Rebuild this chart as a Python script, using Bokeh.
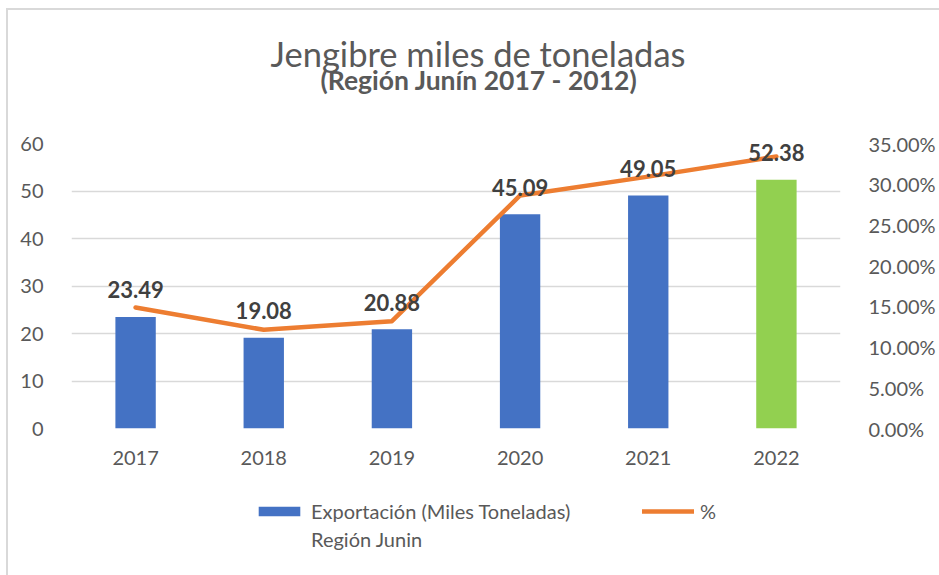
from bokeh.plotting import figure
from bokeh.layouts import column
from bokeh.models import (Range1d, LinearAxis, FactorRange, FixedTicker, NumeralTickFormatter,
                          Legend, LegendItem, ColumnDataSource, Title)
from bokeh.core.properties import value
from bokeh.embed import file_html
from bokeh.resources import INLINE

# ---- data ----
years = ["2017", "2018", "2019", "2020", "2021", "2022"]
export_miles_t = [23.49, 19.08, 20.88, 45.09, 49.05, 52.38]
pct_share = [0.1486, 0.1212, 0.1318, 0.2862, 0.3093, 0.3340]
left_ticks = [0, 10, 20, 30, 40, 50, 60]
right_ticks = [0.0, 0.05, 0.10, 0.15, 0.20, 0.25, 0.30, 0.35]
title_text = "Jengibre miles de toneladas"
subtitle_text = "(Región Junín 2017 - 2012)"
bar_legend_line1 = "Exportación (Miles Toneladas)"
bar_legend_line2 = "Región Junin"
line_legend = "%"
highlight_year = "2022"

# ---- styles ----
FONT = "Lato"
BLUE = "#4472C4"
GREEN = "#92D050"
ORANGE = "#ED7D31"
GRID = "#D9D9D9"
TXT = "#595959"

colors = [GREEN if y == highlight_year else BLUE for y in years]
src = ColumnDataSource(dict(year=years, val=export_miles_t, pct=pct_share, color=colors,
                            label=[f"{v:.2f}" for v in export_miles_t]))

p = figure(x_range=FactorRange(*years), y_range=Range1d(0, 60),
           width=939, height=490, output_backend="svg", toolbar_location=None,
           min_border_left=71, min_border_right=99, min_border_top=143, min_border_bottom=62)
p.styles = {"box-shadow": "inset 6px 8px 0 0 #FFFFFF, inset 8px 10px 0 0 #D9D9D9"}
p.outline_line_color = None
p.background_fill_color = "white"
p.border_fill_alpha = 0

p.extra_y_ranges = {"pct": Range1d(0, 0.35)}

bars = p.vbar(x="year", top="val", width=0.315, fill_color="color", line_color=None, source=src)
line = p.line(x="year", y="pct", y_range_name="pct", line_color=ORANGE, line_width=4.5,
              line_join="round", line_cap="round", source=src)
p.text(x="year", y="val", text="label", y_offset=-27, text_align="center", text_baseline="middle",
       text_font=value(FONT), text_font_style="bold", text_font_size="22px", text_color="#404040",
       source=src)

# axes
p.yaxis.ticker = FixedTicker(ticks=left_ticks)
raxis = LinearAxis(y_range_name="pct", ticker=FixedTicker(ticks=right_ticks),
                   formatter=NumeralTickFormatter(format="0.00%"))
p.add_layout(raxis, "right")
for ax in [p.xaxis[0], p.yaxis[0], raxis]:
    ax.axis_line_color = None
    ax.major_tick_line_color = None
    ax.minor_tick_line_color = None
    ax.major_label_text_font = FONT
    ax.major_label_text_font_size = "20px"
    ax.major_label_text_color = TXT
p.yaxis[0].major_label_standoff = 22
raxis.major_label_standoff = 22
p.xaxis[0].major_label_standoff = 16

p.xgrid.grid_line_color = None
p.ygrid.grid_line_color = GRID
p.ygrid.grid_line_width = 1.5

# titles: spacer, subtitle, main title (stacked upward from the frame)
p.add_layout(Title(text=" ", text_font_size="10px", standoff=30), "above")
p.add_layout(Title(text=subtitle_text, align="left", offset=249, standoff=10,
                   text_font=FONT, text_font_style="bold", text_font_size="26.5px",
                   text_color=TXT), "above")
p.add_layout(Title(text=title_text, align="left", offset=199, standoff=-35,
                   text_font=FONT, text_font_style="normal", text_font_size="34.5px",
                   text_color=TXT), "above")

# ---- legend strip (separate canvas below the chart) ----
lg = figure(width=939, height=85, output_backend="svg", toolbar_location=None,
            x_range=Range1d(0, 1), y_range=Range1d(0, 1),
            x_axis_location=None, y_axis_location=None,
            min_border_left=0, min_border_right=0, min_border_top=0, min_border_bottom=0)
lg.styles = {"box-shadow": "inset 6px 0 0 0 #FFFFFF, inset 8px 0 0 0 #D9D9D9"}
lg.outline_line_color = None
lg.grid.grid_line_color = None
lg.background_fill_alpha = 0
lg.border_fill_alpha = 0
# legend swatches only (their data lies far outside the visible range of this strip)
lg_bar = lg.vbar(x=[-50], bottom=[-60], top=[-50], width=0.3, fill_color=BLUE, line_color=None)
lg_blank = lg.scatter(x=[-50], y=[-50], fill_alpha=0, line_alpha=0)
lg_line = lg.line(x=[-60, -50], y=[-50, -50], line_color=ORANGE, line_width=4.5, line_cap="round")

legend = Legend(items=[LegendItem(label=bar_legend_line1, renderers=[lg_bar]),
                       LegendItem(label=bar_legend_line2, renderers=[lg_blank]),
                       LegendItem(label=line_legend, renderers=[lg_line])],
                orientation="vertical", nrows=2, location=(182, 24),
                glyph_width=52, glyph_height=12, label_standoff=6, spacing=4,
                label_width=327, padding=0, margin=0, border_line_color=None,
                background_fill_alpha=0,
                label_text_font=FONT, label_text_font_size="20px", label_text_color=TXT)
lg.add_layout(legend)

layout = column(p, lg, spacing=0)
open("out.html", "w").write(file_html(layout, INLINE))
